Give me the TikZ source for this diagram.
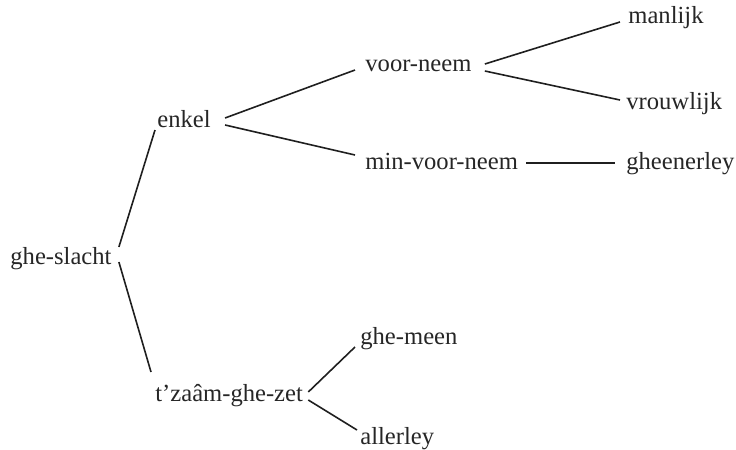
\documentclass[tikz,border=0pt]{standalone}
\usepackage{fontspec}
\setmainfont{Liberation Serif}
\begin{document}
\begin{tikzpicture}[x=0.5pt,y=-0.5pt,
  lbl/.style={anchor=west,inner sep=0pt,text height=5.4pt,text depth=0pt,font=\fontsize{12.3}{14}\selectfont,text=black!85},
  edge/.style={line width=0.8pt,draw=black!88}]
\useasboundingbox (0,0) rectangle (736,450);
\node[lbl] (gs) at (10,259) {ghe-slacht};
\node[lbl] (en) at (157,122) {enkel};
\node[lbl] (tz) at (155,396) {t’zaâm-ghe-zet};
\node[lbl] (vn) at (365,66) {voor-neem};
\node[lbl] (mvn) at (365,164) {min-voor-neem};
\node[lbl] (ml) at (628,18) {manlijk};
\node[lbl] (vr) at (626,104) {vrouwlijk};
\node[lbl] (gh) at (626,164) {gheenerley};
\node[lbl] (gm) at (360,339) {ghe-meen};
\node[lbl] (al) at (360,439) {allerley};
\draw[edge] ([shift={(7,-12)}]gs.east) -- ([shift={(-2,8)}]en.west);
\draw[edge] ([shift={(7,3)}]gs.east) -- ([shift={(-4,-24)}]tz.west);
\draw[edge] ([shift={(14,-4)}]en.east) -- ([shift={(-10,4)}]vn.west);
\draw[edge] ([shift={(14,3)}]en.east) -- ([shift={(-10,-9)}]mvn.west);
\draw[edge] ([shift={(13,-2)}]vn.east) -- ([shift={(-8,4)}]ml.west);
\draw[edge] ([shift={(13,5)}]vn.east) -- ([shift={(-6,-4)}]vr.west);
\draw[edge] ([shift={(8,-1)}]mvn.east) -- ([shift={(-11,-1)}]gh.west);
\draw[edge] ([shift={(5,-4)}]tz.east) -- ([shift={(-5,8)}]gm.west);
\draw[edge] ([shift={(5,4)}]tz.east) -- ([shift={(-3,-9)}]al.west);
\end{tikzpicture}
\end{document}
